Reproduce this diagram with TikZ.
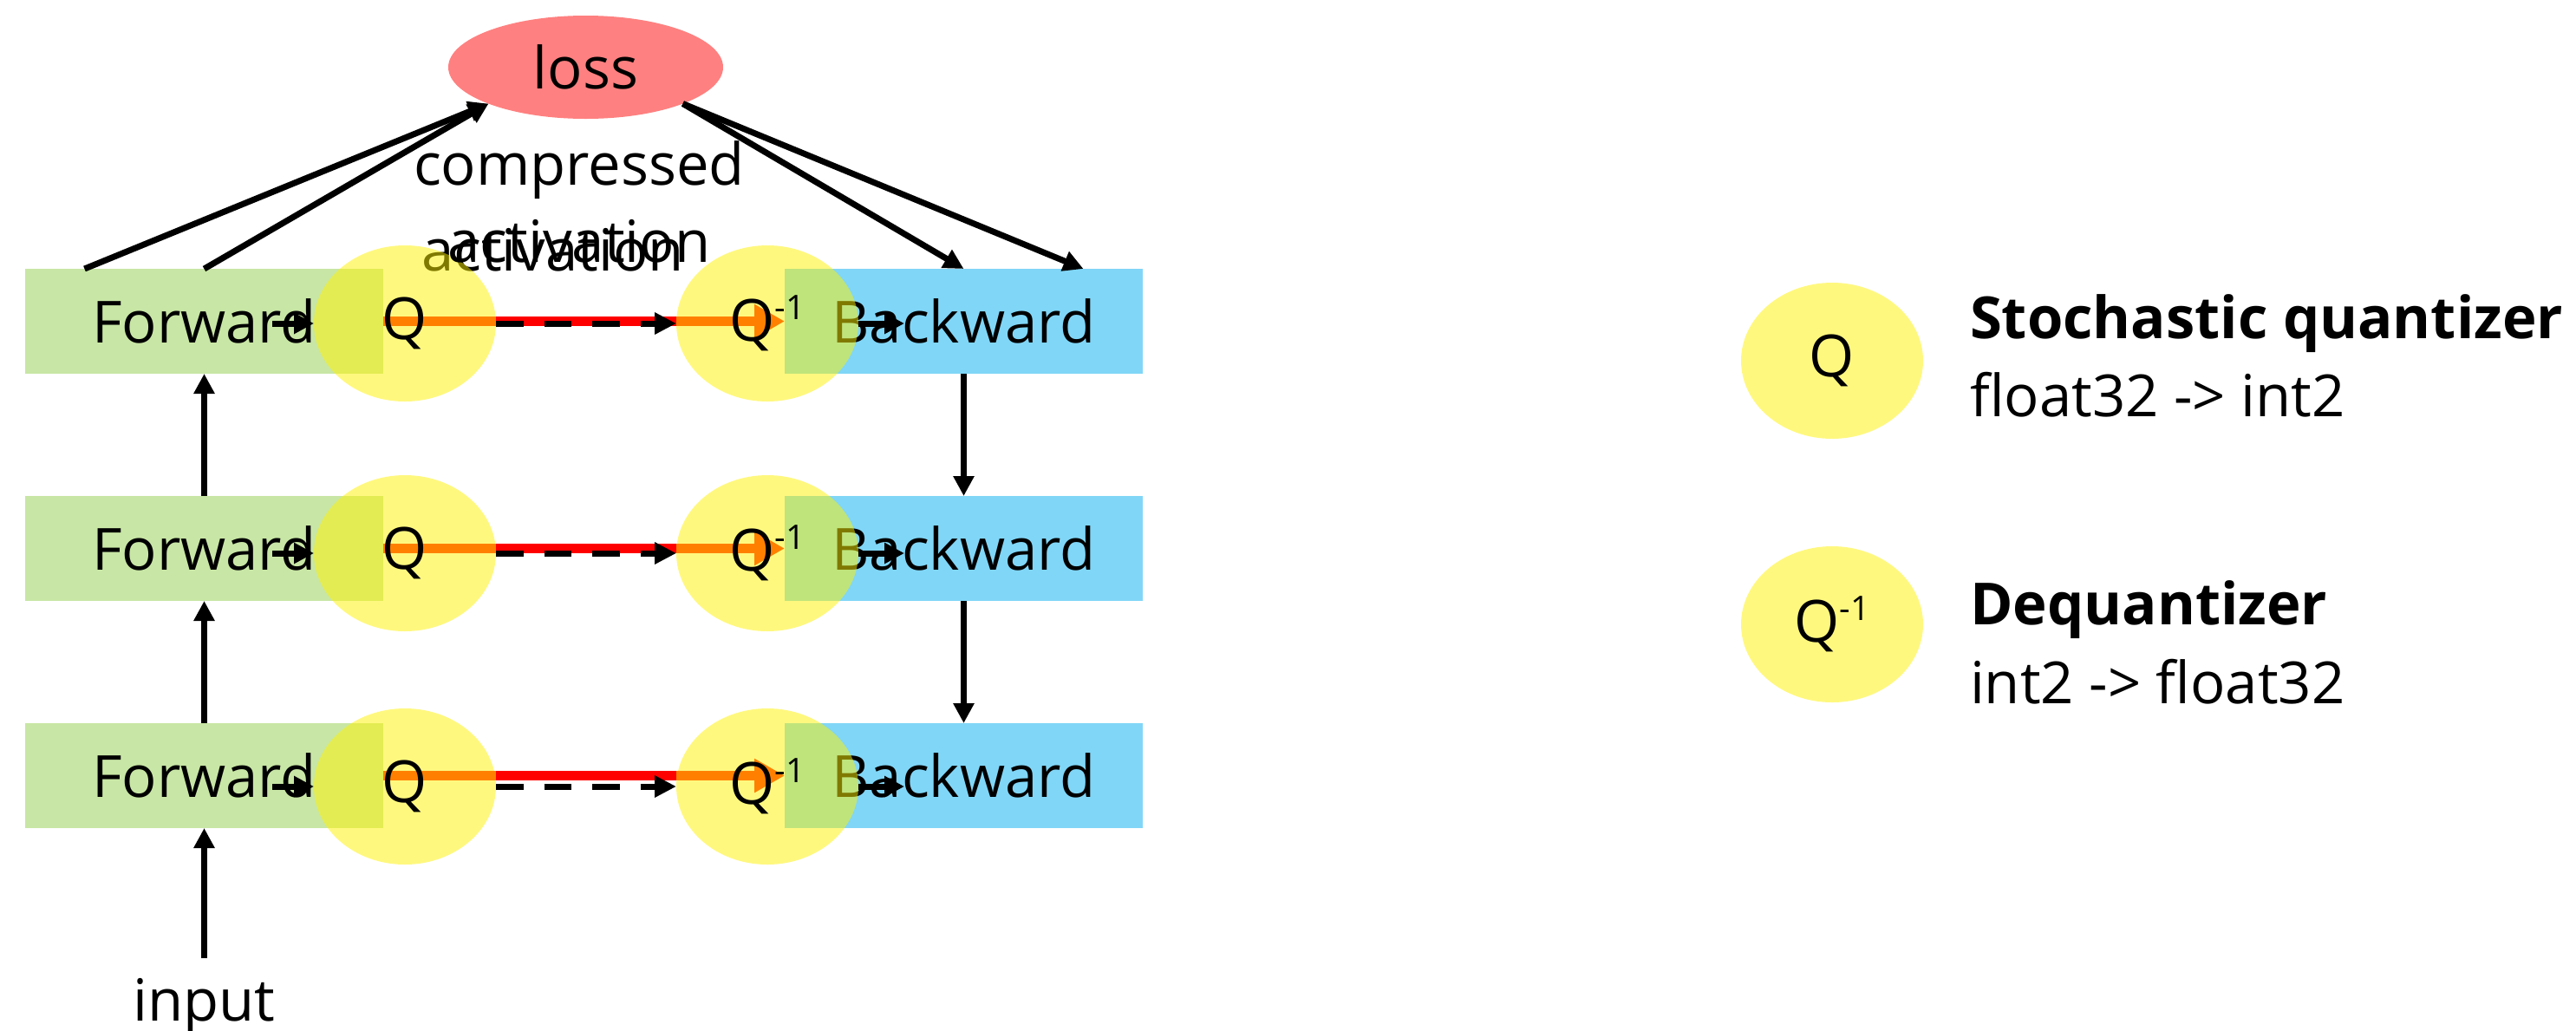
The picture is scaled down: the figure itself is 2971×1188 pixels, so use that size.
\documentclass[tikz,border=0pt]{standalone}
\usepackage{fontspec}
\setmainfont{Open Sans}
\usetikzlibrary{arrows.meta,shapes.geometric}
\definecolor{fwdgreen}{HTML}{C8E6A5}
\definecolor{bwdblue}{HTML}{80D6F7}
\definecolor{lossred}{HTML}{FF8080}
\definecolor{actorange}{HTML}{FF8000}
% Q with a raised "-1"
\newcommand{\qinv}{Q\raisebox{5pt}{\fontsize{7.8pt}{8pt}\selectfont -1}}
\begin{document}
\begin{tikzpicture}[x=0.2pt,y=-0.2pt,
  every node/.style={font=\fontsize{13.4pt}{17.8pt}\selectfont, text=black},
  stagebox/.style={rectangle, minimum width=82.6pt, minimum height=24.2pt, inner sep=0pt, outer sep=0pt},
  fwd/.style={stagebox, fill=fwdgreen},
  bwd/.style={stagebox, fill=bwdblue},
  quant/.style={ellipse, minimum width=42pt, minimum height=36pt, inner sep=0pt, outer sep=0pt, fill=yellow, fill opacity=0.5},
  arr/.style={line width=1.4pt, -{Triangle[length=4.6pt,width=4.6pt]}},
  actarr/.style={line width=2.34pt, actorange, -{Triangle[length=7pt,width=7.4pt]}},
  redline/.style={line width=2.34pt, red},
  dasharr/.style={line width=1.4pt, dash pattern=on 6.3pt off 4.8pt, -{Triangle[length=5pt,width=4.8pt]}},
]
\useasboundingbox (0,0) rectangle (2971,1188);

% forward and backward stages
\foreach \i/\yb in {1/370.5, 2/632.5, 3/894.5} {
  \node[fwd] (F\i) at (235.5,\yb) {Forward};
  \node[bwd] (B\i) at (1111.5,\yb) {Backward};
}

% second copy of the label, partly under the quantizer
\node[anchor=base] (act) at (637.5,312) {activation};

% quantizer / dequantizer discs
\foreach \i/\ye in {1/373, 2/638, 3/907} {
  \node[quant] (Q\i) at (467,\ye) {};
  \node[quant] (Qi\i) at (885,\ye) {};
}

% loss
\node[ellipse, fill=lossred, minimum width=63.4pt, minimum height=23.8pt, inner sep=0pt, outer sep=0pt] (loss) at (675.5,77.5) {loss};

% activation path in each layer
\foreach \i in {1,2,3} {
  \draw[actarr] (F\i.east) -- (B\i.west);
  \draw[redline] (Q\i.east |- F\i.east) -- (Qi\i.west |- F\i.east);
  \draw[dasharr] (Q\i.east) -- (Qi\i.west);
  \node (Qt\i) at (Q\i.center) {Q};
  \node (Qit\i) at (Qi\i.center) {\qinv};
  \draw[arr] ([xshift=-9.6pt]Q\i.west) -- (Q\i.west);
  \draw[arr] (Qi\i.east) -- ([xshift=10.6pt]Qi\i.east);
}

% layer-to-layer connections
\draw[arr] (F3.north) -- (F2.south);
\draw[arr] (F2.north) -- (F1.south);
\draw[arr] (B1.south) -- (B2.north);
\draw[arr] (B2.south) -- (B3.north);

\node[anchor=base, outer sep=1.2pt] (input) at (235.5,1177) {input};
\draw[arr] (input.north) -- (F3.south);

% to and from the loss
\draw[arr] ([xshift=-27.6pt]F1.north) -- (loss.south west);
\draw[arr] (F1.north) -- (loss.south west);
\draw[arr] (loss.south east) -- (B1.north);
\draw[arr] (loss.south east) -- ([xshift=27.6pt]B1.north);

% two-line label; its base is the baseline of the second line
\node[anchor=base, align=center] (cact) at (668,302) {compressed\\activation};

% legend
\node[quant] (LQ) at (2113,416) {};
\node (LQt) at (LQ.center) {Q};
\node[quant] (LQi) at (2113,720) {};
\node (LQit) at (LQi.center) {\qinv};
\node[anchor=base west, inner sep=0pt, font=\fontsize{13.4pt}{17.8pt}\selectfont\bfseries] (sq) at (2271,390) {Stochastic quantizer};
\node[anchor=base west, inner sep=0pt] (sqd) at (2271,480) {float32 -> int2};
\node[anchor=base west, inner sep=0pt, font=\fontsize{13.4pt}{17.8pt}\selectfont\bfseries] (dq) at (2271,720) {Dequantizer};
\node[anchor=base west, inner sep=0pt] (dqd) at (2271,811) {int2 -> float32};
\end{tikzpicture}
\end{document}
